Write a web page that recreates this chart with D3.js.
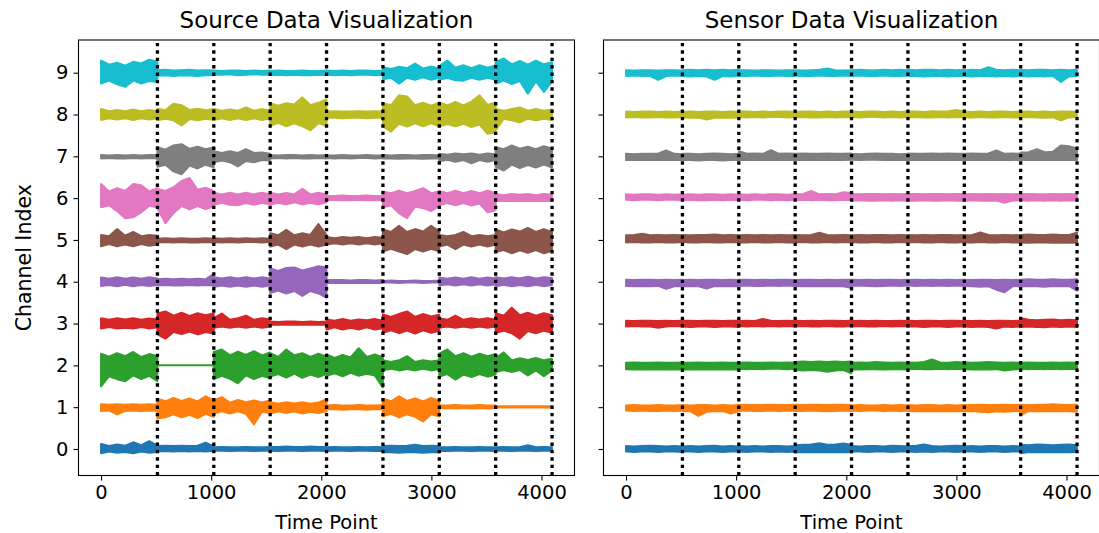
<!DOCTYPE html>
<html>
<head>
<meta charset="utf-8">
<script src="https://cdn.jsdelivr.net/npm/d3@7"></script>
<style>
  html, body { margin: 0; padding: 0; background: #ffffff; }
  svg { display: block; font-family: "DejaVu Sans", sans-serif; }
</style>
</head>
<body>
<svg id="chart" width="1099" height="533"></svg>
<script>
// ---------------------------------------------------------------
// Data: per-channel signal envelopes (upper / lower deviation from
// the channel baseline, in hundredths of a channel unit), sampled
// 8 times inside each 512-point window of the 4096-sample record.
// ---------------------------------------------------------------
const panelTitles = ["Source Data Visualization", "Sensor Data Visualization"];
const channels = [0, 1, 2, 3, 4, 5, 6, 7, 8, 9];
const xTicks = [0, 1000, 2000, 3000, 4000];
const yTicks = [0, 1, 2, 3, 4, 5, 6, 7, 8, 9];
const boundaries = [512, 1024, 1536, 2048, 2560, 3072, 3584, 4096];
const channelColors = ["#1f77b4", "#ff7f0e", "#2ca02c", "#d62728", "#9467bd",
                       "#8c564b", "#e377c2", "#7f7f7f", "#bcbd22", "#17becf"];

// Source panel
const srcUp0 = [12,7,11,8,16,9,19,8, 7,8,7,8,7,8,15,7, 4,5,4,4,5,4,4,5, 5,5,6,5,5,6,5,5, 4,5,4,4,5,4,5,4, 7,8,7,8,10,7,8,7, 4,4,5,4,4,5,4,4, 4,5,4,4,9,4,5,4];
const srcDn0 = [10,6,9,7,10,6,9,7, 6,5,6,5,6,5,6,5, 4,4,5,4,4,5,4,4, 4,5,4,4,5,4,4,5, 5,4,4,5,4,4,5,4, 8,8,9,8,8,9,8,8, 4,5,4,4,5,4,4,5, 4,4,5,4,4,5,4,4];
const srcUp1 = [7,6,7,6,7,6,7,6, 20,14,22,15,21,14,26,16, 16,24,11,17,12,16,11,16, 12,8,12,9,12,8,11,19, 4,5,4,4,5,4,4,5, 20,14,26,15,21,14,22,15, 4,4,5,4,4,5,4,4, 2,2,2,2,2,2,2,2];
const srcDn1 = [9,8,17,9,8,9,8,9, 27,24,17,24,18,26,16,23, 15,10,15,10,16,41,11,14, 15,10,14,10,15,11,14,10, 5,5,6,5,5,6,5,5, 22,16,24,17,23,34,17,22, 3,2,3,2,3,2,3,2, 1,1,1,1,1,1,1,1];
const srcUp2 = [28,21,29,22,32,20,27,22, 0,0,0,0,0,0,0,0, 32,38,24,33,25,34,24,31, 29,20,38,24,29,20,28,21, 26,18,25,19,41,20,26,19, 12,8,12,22,8,12,9,12, 28,38,22,29,21,28,22,27, 17,31,12,17,13,18,12,16];
const srcDn2 = [50,26,33,38,24,33,25,38, 0,0,0,0,0,0,0,0, 33,25,32,43,24,33,25,31, 27,21,29,20,30,22,28,21, 25,19,26,18,25,20,24,53, 12,8,12,9,12,8,12,9, 27,21,34,22,28,21,27,22, 16,11,16,11,24,12,26,12];
const srcUp3 = [13,9,13,10,13,9,12,10, 24,29,19,26,18,25,20,24, 13,24,9,13,19,9,13,10, 5,4,5,5,4,5,4,5, 10,7,11,7,10,8,11,7, 22,16,23,29,16,23,17,21, 13,9,19,9,13,10,13,9, 25,19,38,20,26,19,25,20];
const srcDn3 = [12,8,12,10,12,8,12,9, 26,36,20,25,19,26,20,24, 10,7,10,7,10,7,10,7, 3,2,3,2,3,2,3,2, 14,9,14,10,14,9,14,11, 22,16,23,17,24,16,22,17, 10,7,10,7,10,7,10,7, 22,17,23,36,18,23,17,22];
const srcUp4 = [10,7,11,7,10,7,11,8, 6,7,6,7,6,7,6,19, 11,8,11,8,11,8,11,8, 32,26,33,34,27,32,37,34, 4,4,4,3,4,4,3,4, 2,3,2,2,3,2,2,3, 10,7,10,7,11,7,10,8, 11,8,11,8,12,8,11,9];
const srcDn4 = [10,8,11,7,11,8,10,8, 9,8,9,9,8,9,8,9, 12,9,12,9,12,9,12,9, 27,21,28,22,34,22,28,38, 3,3,3,3,3,3,3,3, 2,2,3,2,2,3,2,2, 9,6,9,6,9,6,9,6, 11,7,11,8,11,7,11,8];
const srcUp5 = [12,9,26,10,19,9,12,10, 3,4,3,4,3,3,4,3, 4,3,4,3,4,3,4,3, 16,11,24,11,16,12,38,12, 7,4,7,5,7,4,7,5, 25,19,34,19,26,20,34,20, 12,9,12,19,9,12,9,12, 25,18,25,20,29,19,26,19];
const srcDn5 = [15,10,15,11,15,10,14,11, 6,5,6,5,6,6,5,6, 5,6,5,6,5,5,6,5, 16,11,22,11,16,11,16,11, 11,8,11,8,11,8,11,8, 27,21,28,34,22,28,21,27, 16,11,22,11,16,11,16,11, 29,24,32,25,31,24,32,26];
const srcUp6 = [34,16,24,17,34,31,16,24, 22,17,26,41,48,20,25,17, 13,9,13,9,13,9,13,9, 13,9,12,9,22,9,13,9, 5,5,6,5,5,6,5,5, 16,12,18,12,17,24,12,16, 17,12,18,12,17,12,18,12, 10,7,10,8,10,7,10,8];
const srcDn6 = [22,17,31,48,46,34,18,22, 24,60,36,19,27,19,26,20, 16,11,16,17,12,16,11,15, 15,11,15,10,15,11,15,10, 5,4,5,5,4,5,5,4, 22,17,36,48,20,24,31,18, 17,12,17,12,18,13,34,29, 7,6,7,7,6,7,6,7];
const srcUp7 = [3,2,3,2,3,2,3,3, 22,16,26,29,18,23,17,21, 12,8,12,8,17,8,9,6, 3,2,3,3,2,3,2,3, 2,2,3,2,2,3,2,2, 3,2,3,3,2,3,3,2, 6,4,7,5,7,4,7,5, 22,17,26,18,23,17,24,18];
const srcDn7 = [5,4,5,5,4,5,4,5, 25,20,36,43,22,29,20,26, 14,10,14,24,11,14,9,10, 5,4,5,4,5,5,4,5, 4,5,4,5,4,4,5,4, 5,5,6,5,5,6,5,5, 12,8,13,9,17,9,13,9, 25,34,20,28,21,27,20,27];
const srcUp8 = [13,8,11,8,12,8,11,8, 14,10,26,22,11,14,10,13, 13,9,12,9,17,9,13,9, 27,21,27,24,41,22,28,36, 7,8,7,7,8,7,8,7, 27,22,46,43,22,28,21,28, 29,22,30,22,31,46,23,29, 13,9,13,17,9,13,9,12];
const srcDn8 = [13,9,12,9,13,9,12,9, 14,10,14,26,11,14,10,13, 13,9,13,9,13,9,13,9, 27,20,28,21,28,38,21,27, 8,8,9,8,8,9,8,8, 28,41,22,29,21,28,21,28, 29,23,28,22,30,24,46,43, 38,10,14,19,10,14,10,13];
const srcUp9 = [29,19,24,17,26,22,31,26, 6,7,5,6,7,5,6,5, 5,4,5,5,4,5,4,5, 4,5,4,4,5,4,4,5, 5,4,5,4,5,5,4,5, 13,9,14,11,22,10,15,10, 16,29,12,18,11,18,12,17, 26,34,20,28,19,29,20,25];
const srcDn9 = [26,19,28,34,19,26,20,22, 7,6,8,6,7,8,6,6, 5,5,4,6,5,4,5,5, 6,5,6,5,6,6,5,6, 5,6,5,6,5,5,6,5, 16,12,26,12,17,11,17,12, 17,12,18,19,12,17,12,17, 26,19,27,20,50,21,46,22];

// Sensor panel
const senUp0 = [7,6,7,8,7,6,7,6, 6,7,6,7,8,6,7,6, 7,6,7,6,7,7,6,7, 9,10,11,14,10,11,13,10, 7,6,7,7,6,8,7,6, 7,8,11,7,6,7,8,7, 6,7,6,7,7,6,7,6, 10,9,11,10,9,10,11,9];
const senDn0 = [6,7,6,6,7,6,6,7, 6,6,7,6,6,7,6,6, 6,7,6,6,7,6,7,6, 8,7,8,8,7,8,7,8, 6,6,7,6,6,7,6,6, 6,7,6,7,6,6,7,6, 6,6,7,6,6,7,6,6, 10,7,8,7,8,7,8,7];
const senUp1 = [4,5,4,4,5,4,4,5, 5,4,5,5,4,5,4,5, 5,6,5,5,6,5,5,6, 6,5,6,6,5,6,6,5, 4,5,4,4,5,4,5,4, 5,4,5,5,4,5,4,5, 5,5,6,5,5,6,5,5, 6,5,6,6,7,6,5,6];
const senDn1 = [8,9,8,9,9,8,9,8, 9,10,21,11,10,9,15,10, 9,8,9,9,8,9,8,9, 9,9,8,9,10,9,8,9, 8,9,8,8,9,8,9,8, 9,10,9,10,9,10,9,10, 10,9,11,12,10,11,10,9, 19,9,10,9,10,9,10,11];
const senUp2 = [6,7,6,6,7,6,6,7, 6,6,7,6,6,7,6,6, 6,7,6,6,7,6,7,6, 8,9,8,9,8,9,8,9, 6,7,6,8,7,6,7,6, 7,6,8,14,7,6,8,7, 7,6,7,8,7,6,7,6, 6,7,6,6,7,6,7,6];
const senDn2 = [9,10,9,10,10,9,10,9, 10,9,10,10,9,10,9,10, 8,9,8,9,8,8,9,8, 11,12,11,12,15,12,11,19, 9,10,9,9,10,9,9,10, 9,8,9,9,8,9,8,9, 9,10,9,10,9,12,10,9, 8,9,8,9,8,9,8,9];
const senUp3 = [7,6,7,7,6,7,6,7, 7,7,6,7,7,6,7,7, 6,7,6,11,7,6,7,6, 7,6,7,6,7,7,6,7, 6,7,6,7,6,6,7,6, 7,6,7,7,6,7,7,6, 7,6,7,6,7,7,6,7, 13,9,8,9,10,8,9,8];
const senDn3 = [7,6,7,7,10,7,6,7, 7,8,7,7,8,7,7,8, 6,7,6,7,6,7,6,7, 7,6,7,7,6,7,7,6, 7,6,7,7,6,7,6,7, 7,7,8,7,7,8,7,7, 7,8,7,8,12,7,8,7, 8,7,8,9,7,8,7,8];
const senUp4 = [5,4,5,5,4,5,4,5, 4,5,4,5,5,4,5,4, 5,5,4,5,4,5,5,4, 4,5,5,4,5,4,5,5, 5,4,5,4,5,5,4,5, 4,5,4,5,4,5,4,5, 5,4,5,5,4,5,4,5, 5,6,5,5,6,5,5,6];
const senDn4 = [10,11,10,11,10,17,11,10, 11,10,11,16,10,11,10,11, 10,9,10,10,9,10,9,10, 10,11,10,11,11,10,11,15, 10,9,10,11,10,9,10,9, 9,10,9,10,9,10,9,10, 10,11,12,11,19,25,11,10, 11,10,11,12,10,11,10,21];
const senUp5 = [11,12,15,11,12,11,12,11, 12,11,12,12,13,11,12,11, 11,12,11,12,11,12,11,12, 12,11,12,17,12,11,12,11, 11,12,11,12,12,11,12,11, 12,11,12,11,12,12,11,12, 11,12,18,12,11,12,11,12, 12,13,12,12,13,12,12,17];
const senDn5 = [6,5,6,6,5,6,6,5, 5,6,6,5,6,6,5,6, 6,6,5,6,6,5,6,6, 6,5,6,6,5,6,5,6, 5,6,6,5,6,6,5,6, 6,5,6,6,5,6,6,5, 6,6,5,6,6,5,6,6, 6,7,6,6,7,6,7,6];
const senUp6 = [9,8,9,9,8,9,8,9, 8,9,8,9,9,8,9,8, 9,8,9,8,9,9,8,9, 9,10,17,9,10,9,14,12, 10,9,10,10,9,10,9,10, 10,10,9,10,10,9,10,10, 9,10,9,10,9,10,9,10, 9,10,9,9,10,9,10,9];
const senDn6 = [4,5,4,4,5,4,4,5, 5,4,5,5,4,5,4,5, 4,5,4,4,5,4,5,4, 5,4,5,4,5,5,4,5, 6,5,6,6,5,6,5,6, 6,6,5,6,6,5,6,6, 6,5,6,6,6,11,6,5, 5,6,5,6,5,6,5,6];
const senUp7 = [6,5,6,6,7,14,6,5, 6,6,5,6,7,6,5,6, 12,6,7,6,15,6,7,6, 6,7,6,6,7,6,6,7, 6,5,6,7,6,6,5,6, 7,6,6,7,6,7,6,6, 6,7,6,7,14,6,7,6, 9,10,17,10,11,26,24,19];
const senDn7 = [9,8,9,9,8,9,8,9, 9,9,10,9,9,10,9,9, 8,9,8,9,9,8,9,8, 9,8,9,9,8,9,9,8, 8,9,8,8,9,8,9,8, 9,8,9,8,9,9,8,9, 8,9,9,8,9,8,9,8, 9,8,9,9,8,9,8,9];
const senUp8 = [7,6,7,7,6,7,6,7, 6,7,6,7,7,6,7,6, 7,7,6,7,6,7,7,6, 6,7,7,6,7,6,7,7, 7,6,7,7,6,7,6,7, 7,7,6,8,7,8,11,7, 7,6,7,6,7,7,6,7, 6,7,6,7,6,7,7,6];
const senDn8 = [7,6,7,7,6,7,7,6, 7,8,7,12,8,7,8,7, 6,7,6,7,6,6,7,6, 7,6,7,7,6,7,6,7, 6,7,6,6,7,6,7,6, 7,6,7,7,6,7,6,7, 7,7,6,7,7,6,7,7, 7,6,7,8,7,14,7,6];
const senUp9 = [6,5,6,6,5,6,6,5, 6,7,6,7,6,7,6,7, 6,6,5,6,6,5,6,6, 6,5,6,7,10,6,5,6, 6,7,6,6,7,6,7,6, 7,6,7,7,6,7,6,7, 6,7,6,13,7,6,7,6, 7,6,7,7,6,7,6,7];
const senDn9 = [8,7,8,8,17,8,7,8, 8,9,8,9,17,8,9,8, 8,8,7,8,8,7,8,8, 7,8,8,7,8,8,7,8, 8,7,8,8,7,8,8,7, 8,8,9,8,8,9,8,8, 8,9,8,8,9,8,9,8, 8,9,8,9,8,22,9,8];

const sourceUpper = [srcUp0, srcUp1, srcUp2, srcUp3, srcUp4, srcUp5, srcUp6, srcUp7, srcUp8, srcUp9];
const sourceLower = [srcDn0, srcDn1, srcDn2, srcDn3, srcDn4, srcDn5, srcDn6, srcDn7, srcDn8, srcDn9];
const sensorUpper = [senUp0, senUp1, senUp2, senUp3, senUp4, senUp5, senUp6, senUp7, senUp8, senUp9];
const sensorLower = [senDn0, senDn1, senDn2, senDn3, senDn4, senDn5, senDn6, senDn7, senDn8, senDn9];

// Sample positions: 8 per 512-point window, the last one at the window's end.
const windowLen = 512, perWindow = 8, step = 73;
const samplePoints = d3.range(64).map(i => Math.floor(i / perWindow) * windowLen + (i % perWindow) * step);

// ---------------------------------------------------------------
// Layout
// ---------------------------------------------------------------
const svg = d3.select("#chart");
const plotTop = 40, plotBottom = 475.5;
const panels = [
  { x0: 78.5, x1: 574.5, title: panelTitles[0], upper: sourceUpper, lower: sourceLower, yLabels: true },
  { x0: 603.5, x1: 1099.5, title: panelTitles[1], upper: sensorUpper, lower: sensorLower, yLabels: false }
];
const xDomain = [-204.75, 4299.75];
const yDomain = [-0.634, 9.782];
const fontTick = 19.5, fontLabel = 19.5, fontTitle = 23;

panels.forEach((p, pi) => {
  const x = d3.scaleLinear().domain(xDomain).range([p.x0, p.x1]);
  const y = d3.scaleLinear().domain(yDomain).range([plotBottom, plotTop]);
  const g = svg.append("g");

  const clipId = "clip" + pi;
  svg.append("clipPath").attr("id", clipId)
    .append("rect").attr("x", p.x0).attr("y", plotTop)
    .attr("width", p.x1 - p.x0).attr("height", plotBottom - plotTop);

  const plot = g.append("g").attr("clip-path", `url(#${clipId})`);

  // one filled band per channel
  channels.forEach(k => {
    const up = p.upper[k], dn = p.lower[k];
    const area = d3.area()
      .x((d, i) => x(samplePoints[i]))
      .y0((d, i) => y(k - dn[i] / 100))
      .y1((d, i) => y(k + up[i] / 100));
    plot.append("path")
      .datum(up)
      .attr("d", area)
      .attr("fill", channelColors[k])
      .attr("stroke", channelColors[k])
      .attr("stroke-width", 2)
      .attr("stroke-linejoin", "round");
  });

  // window boundaries
  boundaries.forEach(b => {
    plot.append("line")
      .attr("x1", x(b)).attr("x2", x(b))
      .attr("y1", plotBottom).attr("y2", plotTop)
      .attr("stroke", "#000")
      .attr("stroke-width", 3.3)
      .attr("stroke-dasharray", "3.4,4");
  });

  // axes
  const xAxis = d3.axisBottom(x).tickValues(xTicks).tickFormat(d3.format("d"))
    .tickSize(5).tickPadding(4.5);
  const gx = g.append("g").attr("transform", `translate(0,${plotBottom})`).call(xAxis);
  gx.select(".domain").remove();
  gx.selectAll("line").attr("stroke", "#000").attr("stroke-width", 1.1);
  gx.selectAll("text").attr("font-size", fontTick).attr("fill", "#000")
    .attr("font-family", "DejaVu Sans");

  const yAxis = d3.axisLeft(y).tickValues(yTicks).tickSize(5).tickPadding(5)
    .tickFormat(p.yLabels ? d3.format("d") : () => "");
  const gy = g.append("g").attr("transform", `translate(${p.x0},0)`).call(yAxis);
  gy.select(".domain").remove();
  gy.selectAll("line").attr("stroke", "#000").attr("stroke-width", 1.1);
  gy.selectAll("text").attr("font-size", fontTick).attr("fill", "#000")
    .attr("font-family", "DejaVu Sans");

  // frame
  g.append("rect")
    .attr("x", p.x0).attr("y", plotTop)
    .attr("width", p.x1 - p.x0).attr("height", plotBottom - plotTop)
    .attr("fill", "none").attr("stroke", "#000").attr("stroke-width", 1.1);

  // titles and labels
  g.append("text")
    .attr("x", (p.x0 + p.x1) / 2).attr("y", 28)
    .attr("text-anchor", "middle").attr("font-size", fontTitle)
    .text(p.title);

  g.append("text")
    .attr("x", (p.x0 + p.x1) / 2).attr("y", 529)
    .attr("text-anchor", "middle").attr("font-size", fontLabel)
    .text("Time Point");

  if (p.yLabels) {
    g.append("text")
      .attr("transform", `translate(31,${(plotTop + plotBottom) / 2}) rotate(-90)`)
      .attr("text-anchor", "middle").attr("font-size", 20.5)
      .text("Channel Index");
  }
});
</script>
</body>
</html>
